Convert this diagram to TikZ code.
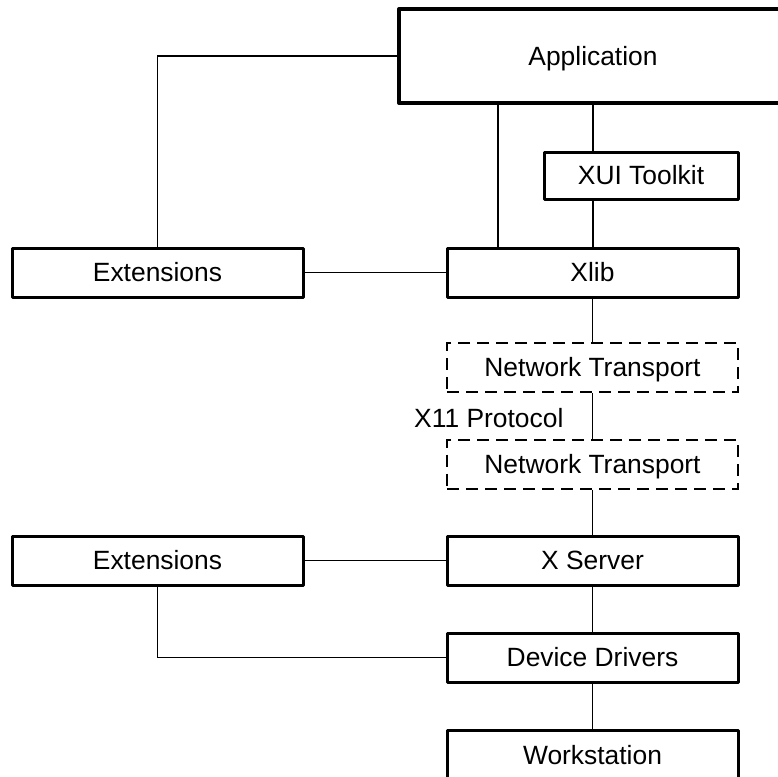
\documentclass[tikz,border=0pt]{standalone}
\usepackage{fontspec}
\setmainfont{Liberation Sans}
\begin{document}
\begin{tikzpicture}[x=1pt,y=-1pt,
  every node/.style={font=\fontsize{26.4}{30}\selectfont, text height=18.9pt, text depth=0pt, inner sep=0pt},
  box/.style={draw, line width=3pt, line join=round, minimum width=291pt, minimum height=49pt},
  dbox/.style={draw, line width=2pt, dash pattern=on 12pt off 7pt, minimum width=291pt, minimum height=49pt},
  conn/.style={line width=1.7pt}]
\useasboundingbox (0,0) rectangle (778,776);
\fill[white] (0,0) rectangle (778,776);
\clip (0,0) rectangle (778,776);
% nodes
\node[box, line width=4pt, minimum width=388pt, minimum height=94pt] (app) at (593,56) {Application};
\node[box, minimum width=194pt, minimum height=47pt] (xui) at (641,175.5) {XUI Toolkit};
\node[box] (xlib) at (592.5,272.5) {Xlib};
\node[box] (ext1) at (157.5,272.5) {Extensions};
\node[dbox] (nt1) at (592.5,367.5) {Network Transport};
\node[dbox] (nt2) at (592.5,464) {Network Transport};
\node[anchor=base west, text height=, text depth=] (proto) at (414,427) {X11 Protocol};
\node[box] (xs) at (592.5,560.5) {X Server};
\node[box] (ext2) at (157.5,560.5) {Extensions};
\node[box] (dd) at (592.5,657.5) {Device Drivers};
\node[box] (ws) at (592.5,755) {Workstation};
\coordinate (c1) at (498,0);
% connectors
\draw[conn] (ext1.north) |- (app.west);
\draw[conn] (app.south -| c1) -- (xlib.north -| c1);
\draw[conn] (app.south) -- (xui.north -| app.south);
\draw[conn] (xui.south -| app.south) -- (xlib.north -| app.south);
\draw[conn] (ext1.east) -- (xlib.west);
\draw[conn] (xlib.south) -- (nt1.north);
\draw[conn] (nt1.south) -- (nt2.north);
\draw[conn] (nt2.south) -- (xs.north);
\draw[conn] (xs.west) -- (ext2.east);
\draw[conn] (ext2.south) |- (dd.west);
\draw[conn] (xs.south) -- (dd.north);
\draw[conn] (dd.south) -- (ws.north);
\end{tikzpicture}
\end{document}
